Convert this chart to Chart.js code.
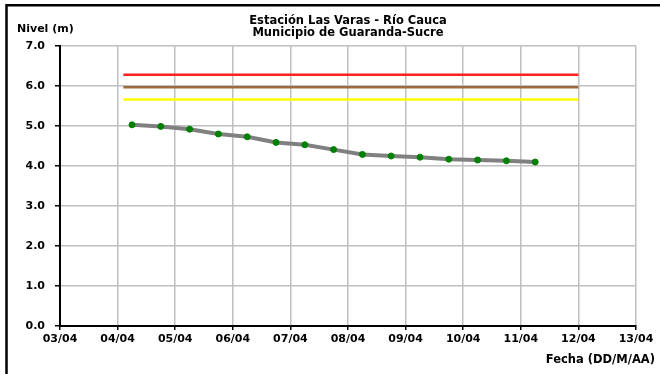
<!DOCTYPE html>
<html>
<head>
<meta charset="utf-8">
<script src="https://cdn.jsdelivr.net/npm/chart.js@4/dist/chart.umd.min.js"></script>
<style>
  html, body { margin: 0; padding: 0; background: #fff; }
  #wrap { width: 660px; height: 374px; position: relative; }
</style>
</head>
<body>
<div id="wrap"><canvas id="myChart" width="660" height="374"></canvas></div>
<script>
// dias contados desde el 03/04
var tickLabels = ['03/04', '04/04', '05/04', '06/04', '07/04', '08/04', '09/04', '10/04', '11/04', '12/04', '13/04'];
var obsDays = [1.25, 1.75, 2.25, 2.75, 3.25, 3.75, 4.25, 4.75, 5.25, 5.75, 6.25, 6.75, 7.25, 7.75, 8.25];
var levels = [5.03, 4.99, 4.92, 4.80, 4.73, 4.59, 4.53, 4.41, 4.29, 4.25, 4.22, 4.17, 4.15, 4.13, 4.10];

var alertNames = ['Alerta roja', 'Alerta naranja', 'Alerta amarilla'];
var alertLevels = [6.28, 5.97, 5.66];
var alertColors = ['#ff2020', '#9c6b3c', '#ffff00'];
var alertStart = 1.1;
var alertEnd = 9.0;

var titleLines = ['Estación Las Varas - Río Cauca', 'Municipio de Guaranda-Sucre'];
var yTitle = 'Nivel (m)';
var xTitle = 'Fecha (DD/M/AA)';

var fontFam = '"DejaVu Sans", Arial, sans-serif';

var datasets = [];
for (var i = 0; i < alertLevels.length; i++) {
  datasets.push({
    label: alertNames[i],
    data: [{ x: alertStart, y: alertLevels[i] }, { x: alertEnd, y: alertLevels[i] }],
    borderColor: alertColors[i],
    borderWidth: 2.5,
    pointRadius: 0,
    fill: false
  });
}

var points = [];
for (var j = 0; j < obsDays.length; j++) {
  points.push({ x: obsDays[j], y: levels[j] });
}
datasets.push({
  label: 'Nivel',
  data: points,
  borderColor: '#808080',
  borderWidth: 4,
  pointRadius: 3,
  pointBorderWidth: 1,
  pointBackgroundColor: '#008000',
  pointBorderColor: '#008000',
  tension: 0,
  fill: false
});

var textPlugin = {
  id: 'textos',
  afterDraw: function(chart) {
    var ctx = chart.ctx;
    var area = chart.chartArea;
    ctx.save();
    // marco
    ctx.strokeStyle = '#000';
    ctx.lineWidth = 2.5;
    ctx.beginPath();
    ctx.moveTo(6.5, 380);
    ctx.lineTo(6.5, 5.3);
    ctx.lineTo(665, 5.3);
    ctx.stroke();

    ctx.fillStyle = '#000';
    ctx.font = 'bold 11.5px ' + fontFam;
    ctx.textAlign = 'center';
    ctx.textBaseline = 'alphabetic';
    var cx = (area.left + area.right) / 2;
    ctx.fillText(titleLines[0], cx, 23.5);
    ctx.fillText(titleLines[1], cx, 35.5);

    ctx.font = 'bold 11px ' + fontFam;
    ctx.textAlign = 'left';
    ctx.fillText(yTitle, 17, 31.5);

    ctx.font = 'bold 11.5px ' + fontFam;
    ctx.textAlign = 'right';
    ctx.fillText(xTitle, 655, 363);
    ctx.restore();
  }
};

var ctx = document.getElementById('myChart').getContext('2d');
var myChart = new Chart(ctx, {
  type: 'line',
  data: { datasets: datasets },
  options: {
    responsive: false,
    animation: false,
    layout: { padding: { left: 0, right: 24, top: 46, bottom: 0 } },
    plugins: {
      legend: { display: false },
      title: { display: false },
      tooltip: { enabled: false }
    },
    scales: {
      x: {
        type: 'linear',
        min: 0,
        max: 10,
        afterFit: function(scale) { scale.height = 48; },
        ticks: {
          stepSize: 1,
          color: '#000',
          padding: 3,
          maxRotation: 0,
          font: { family: fontFam, weight: 'bold', size: 11 },
          callback: function(value) { return tickLabels[value]; }
        },
        grid: { color: '#c0c0c0', lineWidth: 1.5, tickColor: '#000', tickLength: 4 },
        border: { color: '#000', width: 2 }
      },
      y: {
        min: 0,
        max: 7,
        afterFit: function(scale) { scale.width = 60; },
        ticks: {
          stepSize: 1,
          color: '#000',
          padding: 10,
          font: { family: fontFam, weight: 'bold', size: 11 },
          callback: function(value) { return value.toFixed(1); }
        },
        grid: { color: '#c0c0c0', lineWidth: 1.5, tickColor: '#000', tickLength: 5 },
        border: { color: '#000', width: 2 }
      }
    }
  },
  plugins: [textPlugin]
});
</script>
</body>
</html>
